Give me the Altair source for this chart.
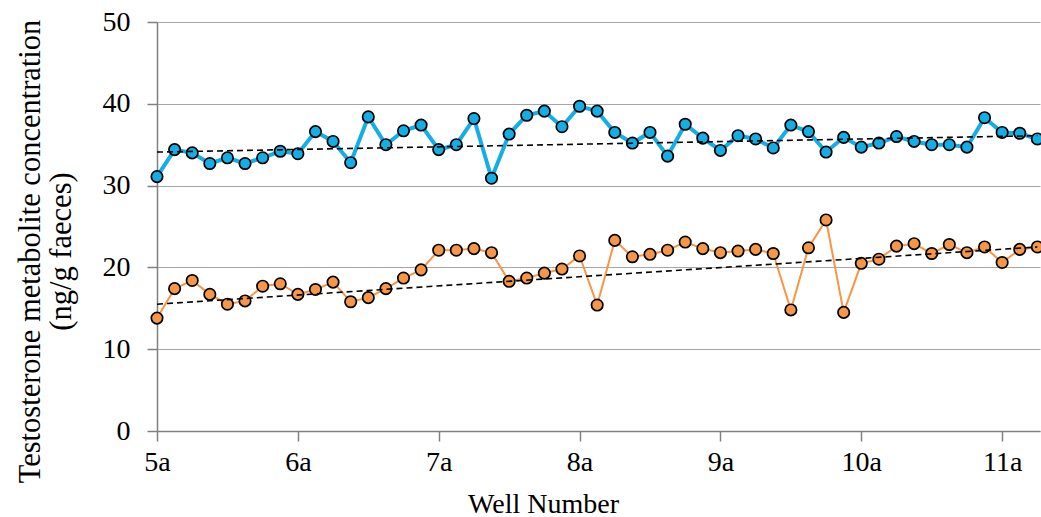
import altair as alt
import pandas as pd

wells = list(range(51))
blue_values = [31.1, 34.4, 34.0, 32.7, 33.4, 32.7, 33.4, 34.2, 33.9, 36.6,
               35.4, 32.8, 38.4, 35.0, 36.7, 37.4, 34.4, 35.0, 38.2, 30.9,
               36.3, 38.6, 39.1, 37.2, 39.7, 39.1, 36.5, 35.2, 36.5, 33.6,
               37.5, 35.8, 34.3, 36.1, 35.7, 34.6, 37.4, 36.6, 34.1, 35.9,
               34.7, 35.2, 36.0, 35.4, 35.0, 35.0, 34.7, 38.3, 36.5, 36.4, 35.7]
orange_values = [13.8, 17.4, 18.4, 16.7, 15.5, 15.9, 17.7, 18.0, 16.7, 17.3,
                 18.2, 15.8, 16.3, 17.4, 18.7, 19.7, 22.1, 22.1, 22.3, 21.8,
                 18.3, 18.7, 19.3, 19.8, 21.4, 15.4, 23.3, 21.3, 21.6, 22.1,
                 23.1, 22.3, 21.8, 22.0, 22.2, 21.7, 14.8, 22.4, 25.8, 14.5,
                 20.5, 21.0, 22.6, 22.9, 21.7, 22.8, 21.8, 22.5, 20.6, 22.2, 22.5]
# linear trendline end points (first and last well)
trend_wells = [0, 50]
blue_trend = [34.1, 36.1]
orange_trend = [15.5, 22.5]

tick_values = [0, 8, 16, 24, 32, 40, 48]
tick_labels = ["5a", "6a", "7a", "8a", "9a", "10a", "11a"]
series_names = ["Blue", "Orange"]
series_colors = ["#14AEE6", "#F79646"]

df = pd.DataFrame({
    "well": wells * 2,
    "value": blue_values + orange_values,
    "series": [series_names[0]] * len(blue_values) + [series_names[1]] * len(orange_values),
})
trend_df = pd.DataFrame({
    "well": trend_wells * 2,
    "value": blue_trend + orange_trend,
    "series": [series_names[0]] * 2 + [series_names[1]] * 2,
})

label_expr = ""
for v, l in zip(tick_values, tick_labels):
    label_expr += f"datum.value == {v} ? '{l}' : "
label_expr += "''"

FONT = "Liberation Serif"

x_enc = alt.X("well:Q",
              scale=alt.Scale(domain=[0, 50.15], nice=False, zero=False),
              axis=alt.Axis(values=tick_values, labelExpr=label_expr, grid=False,
                            title="Well Number", titleFont=FONT,
                            titleFontSize=28, titleFontWeight="normal",
                            titleX=386, titleY=81, titleBaseline="alphabetic",
                            labelFont=FONT, labelFontSize=28,
                            labelPadding=7, tickSize=10, labelFlush=False))
y_enc = alt.Y("value:Q",
              scale=alt.Scale(domain=[0, 50], nice=False),
              axis=alt.Axis(values=[0, 10, 20, 30, 40, 50], grid=True,
                            title=["Testosterone metabolite concentration", "(ng/g faeces)"],
                            titleFont=FONT, titleFontSize=30.5,
                            titleFontWeight="normal", titleX=-127, titleY=229,
                            titleBaseline="middle", titleAlign="center", titleLineHeight=31,
                            labelFont=FONT, labelFontSize=28,
                            labelPadding=17, tickSize=10))
color_scale = alt.Scale(domain=series_names, range=series_colors)

base = alt.Chart(df)

line_blue = base.transform_filter(alt.datum.series == series_names[0]).mark_line(
    strokeWidth=4, color=series_colors[0]).encode(x=x_enc, y=y_enc)
line_orange = base.transform_filter(alt.datum.series == series_names[1]).mark_line(
    strokeWidth=2, color=series_colors[1]).encode(x=x_enc, y=y_enc)
points = base.mark_point(filled=True, size=130, stroke="black", strokeWidth=1.7, opacity=1).encode(
    x=x_enc, y=y_enc,
    fill=alt.Fill("series:N", scale=color_scale, legend=None))
trend = alt.Chart(trend_df).mark_line(
    color="black", strokeDash=[6, 4], strokeWidth=1.6).encode(
    x=x_enc, y=y_enc, detail="series:N")

chart = alt.layer(line_blue, line_orange, points, trend).properties(
    width=883, height=409,
    autosize=alt.AutoSizeParams(type="none"),
    padding={"left": 157, "top": 22, "right": 1, "bottom": 86},
).configure_view(stroke=None).configure_axis(
    domainColor="#808080", tickColor="#808080", gridColor="#A6A6A6",
    labelColor="black", titleColor="black", domainWidth=1.5, tickWidth=1.5,
)

chart.save("out.html", embed_options={"renderer": "svg", "actions": False})
